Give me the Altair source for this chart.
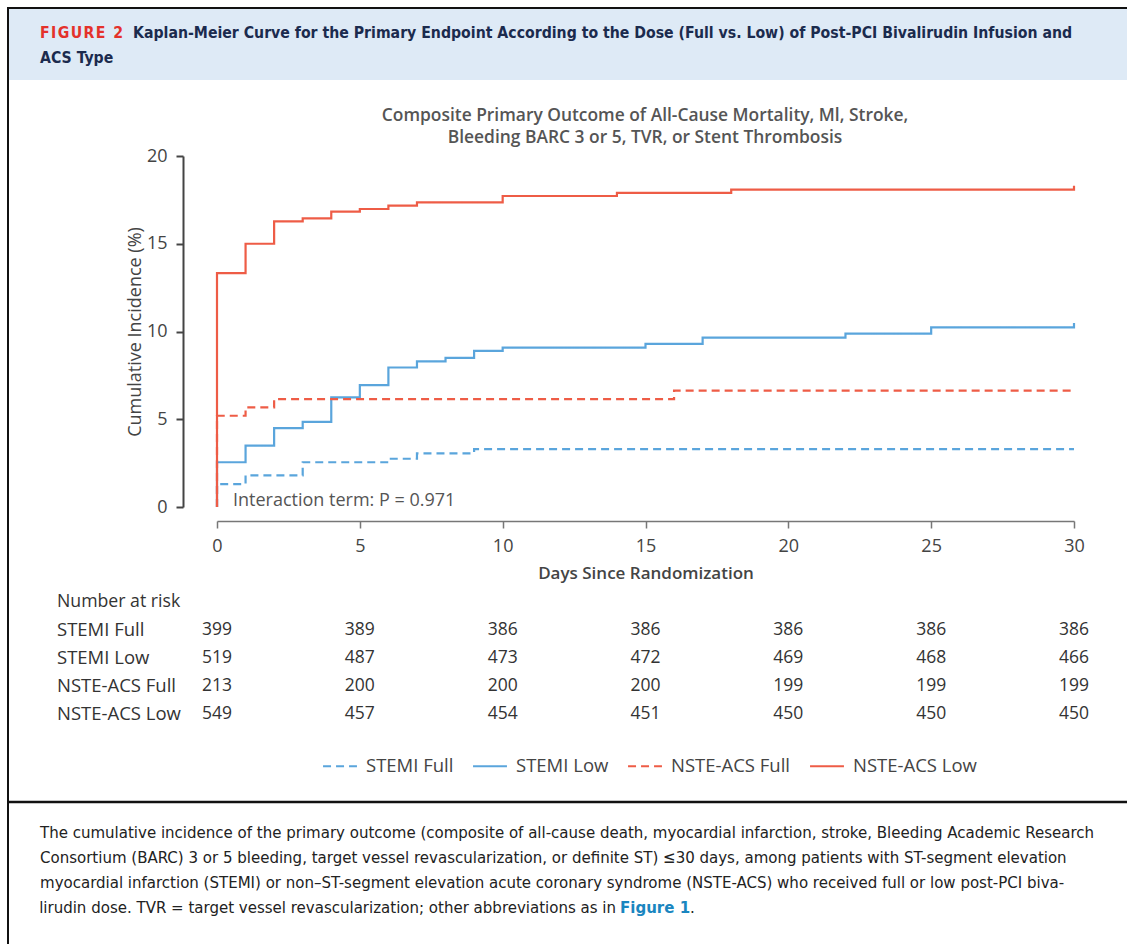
import altair as alt
import pandas as pd

# ---------------- data ----------------
series_names = ["STEMI Full", "STEMI Low", "NSTE-ACS Full", "NSTE-ACS Low"]
series_colors = ["#5aa5dc", "#5aa5dc", "#ee5c46", "#ee5c46"]
series_dashes = [[8, 5], [1, 0], [8, 5], [1, 0]]

stemi_full_days = [0, 0, 1, 3, 6, 7, 9, 30]
stemi_full_pct = [0, 1.3, 1.8, 2.55, 2.75, 3.05, 3.3, 3.3]

stemi_low_days = [0, 0, 1, 2, 3, 4, 5, 6, 7, 8, 9, 10, 15, 17, 22, 25, 30, 30]
stemi_low_pct = [0, 2.55, 3.5, 4.5, 4.85, 6.25, 6.95, 7.95, 8.3, 8.5, 8.9, 9.08,
                 9.3, 9.65, 9.88, 10.24, 10.24, 10.48]

nste_full_days = [0, 0, 1, 2, 16, 30]
nste_full_pct = [0, 5.2, 5.68, 6.15, 6.63, 6.63]

nste_low_days = [0, 0, 1, 2, 3, 4, 5, 6, 7, 10, 14, 18, 30, 30]
nste_low_pct = [0, 13.33, 15.0, 16.28, 16.45, 16.83, 16.98, 17.17, 17.36, 17.72,
                17.9, 18.08, 18.08, 18.3]

x_ticks = [0, 5, 10, 15, 20, 25, 30]
y_ticks = [0, 5, 10, 15, 20]

risk_days = [0, 5, 10, 15, 20, 25, 30]
risk_stemi_full = [399, 389, 386, 386, 386, 386, 386]
risk_stemi_low = [519, 487, 473, 472, 469, 468, 466]
risk_nste_full = [213, 200, 200, 200, 199, 199, 199]
risk_nste_low = [549, 457, 454, 451, 450, 450, 450]

fig_label = "F\u200aI\u200aG\u200aU\u200aR\u200aE\u200a \u200a2"
fig_title = ["Kaplan-Meier Curve for the Primary Endpoint According to the Dose (Full vs. Low) of Post-PCI Bivalirudin Infusion and",
             "ACS Type"]
chart_title = ["Composite Primary Outcome of All-Cause Mortality, Ml, Stroke,",
               "Bleeding BARC 3 or 5, TVR, or Stent Thrombosis"]
caption = [
    "The cumulative incidence of the primary outcome (composite of all-cause death, myocardial infarction, stroke, Bleeding Academic Research",
    "Consortium (BARC) 3 or 5 bleeding, target vessel revascularization, or definite ST) \u226430 days, among patients with ST-segment elevation",
    "myocardial infarction (STEMI) or non\u2013ST-segment elevation acute coronary syndrome (NSTE-ACS) who received full or low post-PCI biva-",
    "lirudin dose. TVR = target vessel revascularization; other abbreviations as in",
]

# ---------------- tables ----------------
rows = []
for name, days, pcts in zip(series_names,
                            [stemi_full_days, stemi_low_days, nste_full_days, nste_low_days],
                            [stemi_full_pct, stemi_low_pct, nste_full_pct, nste_low_pct]):
    for i, (d, p) in enumerate(zip(days, pcts)):
        rows.append({"series": name, "day": d, "pct": p, "idx": i})
km_df = pd.DataFrame(rows)

risk_rows = []
for r, vals in enumerate([risk_stemi_full, risk_stemi_low, risk_nste_full, risk_nste_low]):
    for d, n in zip(risk_days, vals):
        risk_rows.append({"row": r, "day": d, "n": n})
risk_df = pd.DataFrame(risk_rows)
label_df = pd.DataFrame({"row": [0, 1, 2, 3], "label": series_names})

FONT = "'Open Sans', Roboto, sans-serif"
HFONT = "'Liberation Sans Narrow', 'DejaVu Sans Condensed', Roboto, sans-serif"

X0, Y0 = 217, 156          # page position of plot origin
W, H = 857, 351


def one():
    return pd.DataFrame({"a": [0]})


def txt(s, xp, yp, size, color, weight="normal", align="left", font=FONT):
    return alt.Chart(pd.DataFrame({"t": [s]})).mark_text(
        align=align, baseline="middle", fontSize=size, color=color,
        fontWeight=weight, font=font
    ).encode(x=alt.value(xp - X0), y=alt.value(yp - Y0), text="t:N")


def hrule(x1, x2, yp, w, color):
    return alt.Chart(one()).mark_rule(color=color, strokeWidth=w).encode(
        x=alt.value(x1 - X0), x2=alt.value(x2 - X0), y=alt.value(yp - Y0))


def vrule(xp, y1, y2, w, color):
    return alt.Chart(one()).mark_rule(color=color, strokeWidth=w).encode(
        x=alt.value(xp - X0), y=alt.value(y1 - Y0), y2=alt.value(y2 - Y0))


band = alt.Chart(one()).mark_rect(color="#deeaf6").encode(
    x=alt.value(9 - X0), x2=alt.value(1127 - X0),
    y=alt.value(9 - Y0), y2=alt.value(80 - Y0))

legend = alt.Legend(title=None, orient="none", legendX=322 - X0, legendY=748 - Y0,
                    direction="horizontal", symbolType="stroke", symbolSize=1150,
                    symbolStrokeWidth=2, labelFontSize=18.5, labelColor="#444",
                    labelFont=FONT, labelOffset=8, columnPadding=15)

lines = alt.Chart(km_df).mark_line(interpolate="step-after", strokeWidth=2.2).encode(
    x=alt.X("day:Q", scale=alt.Scale(domain=[0, 30], nice=False),
            axis=alt.Axis(values=x_ticks, offset=14, tickSize=7, domainColor="#777",
                          domainWidth=1.5, tickColor="#777", tickWidth=1.5,
                          labelFontSize=18, labelColor="#444", labelFont=FONT,
                          labelPadding=9, labelFlush=False, grid=False,
                          title="Days Since Randomization", titleFontSize=17,
                          titleFontWeight=600, titleColor="#444", titleFont=FONT,
                          titlePadding=10)),
    y=alt.Y("pct:Q", scale=alt.Scale(domain=[0, 20], nice=False),
            axis=alt.Axis(values=y_ticks, offset=34, tickSize=7, domainColor="#444",
                          domainWidth=2, tickColor="#444", tickWidth=2,
                          labelFontSize=18, labelColor="#444", labelFont=FONT,
                          labelPadding=9, grid=False,
                          title="Cumulative Incidence (%)", titleFontSize=18,
                          titleFontWeight="normal", titleColor="#444", titleFont=FONT,
                          titlePadding=2)),
    color=alt.Color("series:N", scale=alt.Scale(domain=series_names, range=series_colors),
                    legend=legend),
    strokeDash=alt.StrokeDash("series:N",
                              scale=alt.Scale(domain=series_names, range=series_dashes),
                              legend=legend),
    order=alt.Order("idx:Q"),
)

row_scale = alt.Scale(domain=[0, 3], range=[630 - Y0, 714 - Y0])

risk_vals = alt.Chart(risk_df).mark_text(fontSize=17.5, color="#333", font=FONT,
                                         baseline="middle").encode(
    x=alt.X("day:Q", scale=alt.Scale(domain=[0, 30], nice=False), axis=None),
    y=alt.Y("row:Q", scale=row_scale, axis=None),
    text="n:Q",
)

risk_labels = alt.Chart(label_df).mark_text(fontSize=18.5, color="#333", font=FONT,
                                            align="left", baseline="middle").encode(
    x=alt.value(57 - X0),
    y=alt.Y("row:Q", scale=row_scale, axis=None),
    text="label:N",
)

layers = [
    band,
    hrule(7, 1127, 8, 2, "#111"),
    vrule(8, 7, 944, 2, "#111"),
    hrule(8, 1127, 802, 2.5, "#111"),
    txt(fig_label, 40, 33, 15.7, "#e4312b", "bold", font=HFONT),
    txt(fig_title[0], 133, 33, 15.7, "#1b2b4e", "bold", font=HFONT),
    txt(fig_title[1], 40, 58, 15.7, "#1b2b4e", "bold", font=HFONT),
    txt(chart_title[0], 645, 116, 17.4, "#555", 600, align="center"),
    txt(chart_title[1], 645, 138, 17.4, "#555", 600, align="center"),
    txt("Interaction term: P = 0.971", 233, 501, 18, "#555"),
    txt("Number at risk", 57, 602, 17.7, "#333"),
    lines,
    risk_vals,
    risk_labels,
    txt(caption[0], 40, 833, 16.7, "#222", font=HFONT),
    txt(caption[1], 40, 858, 16.7, "#222", font=HFONT),
    txt(caption[2], 40, 883, 16.7, "#222", font=HFONT),
    txt(caption[3], 616, 908, 16.7, "#222", align="right", font=HFONT),
    txt("Figure 1", 620, 908, 16.7, "#1a86c0", "bold", font=HFONT),
    txt(".", 690, 908, 16.7, "#222", font=HFONT),
]

chart = alt.layer(*layers).resolve_scale(x="independent", y="independent").properties(
    width=W, height=H,
    autosize=alt.AutoSizeParams(type="none"),
    padding={"left": X0, "top": Y0, "right": 1127 - X0 - W, "bottom": 944 - Y0 - H},
    background="white",
).configure_view(stroke=None)

chart.save("out.html", embed_options={"renderer": "svg", "actions": False})
